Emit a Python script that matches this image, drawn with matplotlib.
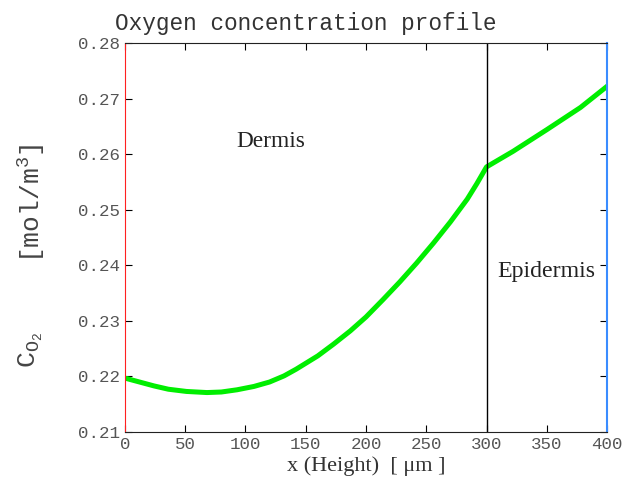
import numpy as np
import matplotlib
matplotlib.use("Agg")
import matplotlib.pyplot as plt

# Oxygen concentration through dermis / epidermis
x_um = [0, 12, 24, 36, 51, 68, 80, 93, 107, 120, 132, 142, 160, 173, 187,
        200, 214, 228, 242, 256, 270, 284, 292, 300, 322, 350, 378, 400]
c_o2 = [0.2197, 0.2190, 0.2183, 0.2177, 0.2173, 0.2171, 0.2172, 0.2176,
        0.2182, 0.2190, 0.2201, 0.2213, 0.2237, 0.2258, 0.2282, 0.2307,
        0.2338, 0.2370, 0.2404, 0.2440, 0.2478, 0.2519, 0.2547, 0.2577,
        0.2605, 0.2644, 0.2684, 0.2722]
boundary_x = 300
x_ticks = [0, 50, 100, 150, 200, 250, 300, 350, 400]
y_ticks = [0.21, 0.22, 0.23, 0.24, 0.25, 0.26, 0.27, 0.28]

plt.rcParams['mathtext.fontset'] = 'custom'
plt.rcParams['mathtext.rm'] = 'Liberation Mono'

fig = plt.figure(figsize=(6.24, 4.84), dpi=100)
ax = fig.add_axes([0.2003, 0.1074, 0.7725, 0.8038])

ax.plot(x_um, c_o2, color='#00ee00', lw=3.6, solid_joinstyle='round')
ax.axvline(boundary_x, color='black', lw=1.0)

ax.set_xlim(0, 400)
ax.set_ylim(0.21, 0.28)
ax.set_xticks(x_ticks)
ax.set_yticks(y_ticks)
ax.set_xticklabels([str(v) for v in x_ticks])
ax.set_yticklabels([f'{v:.2f}' for v in y_ticks])
ax.tick_params(direction='in', top=True, right=True, length=5, width=0.8,
               labelsize=12.6, labelcolor='#555555')
for lab in ax.get_xticklabels() + ax.get_yticklabels():
    lab.set_family('Liberation Mono')

ax.spines['left'].set_color('#ff2020')
ax.spines['right'].set_color('#3a8cff')
ax.spines['right'].set_linewidth(1.5)
for s in ['top', 'bottom']:
    ax.spines[s].set_color('#222222')

fig.text(0.49, 0.952, 'Oxygen concentration profile', family='Liberation Mono',
         fontsize=16.4, color='#333333', ha='center', va='center')

# y label in two parts: symbol and units
fig.text(31 / 624, 1 - 368 / 484, r'$\mathrm{C_{O_2}}$', fontsize=19,
         color='#444444', rotation=90, ha='center', va='bottom')
fig.text(32 / 624, 1 - 143 / 484, r'$\mathrm{[mol/m^3]}$', fontsize=19,
         color='#444444', rotation=90, ha='center', va='top')

ax.set_xlabel('x (Height)  [ μm ]', family='Liberation Serif',
              fontsize=16, color='#333333', labelpad=3)

ax.text(92, 0.2622, 'Dermis', family='Liberation Serif', fontsize=16.8,
        color='#222222', va='center')
ax.text(309, 0.2388, 'Epidermis', family='Liberation Serif', fontsize=17.2,
        color='#222222', va='center')

fig.savefig('out.png', dpi=100)
